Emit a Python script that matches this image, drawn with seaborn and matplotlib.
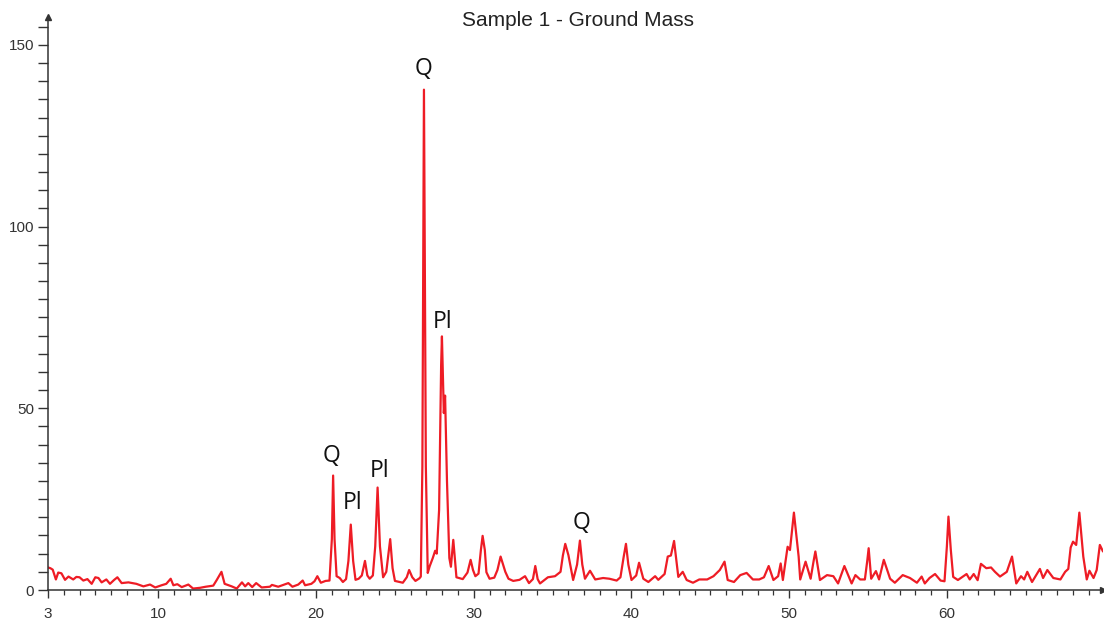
import matplotlib
matplotlib.use("Agg")
import matplotlib.pyplot as plt
from matplotlib.ticker import MultipleLocator, FixedLocator
import seaborn as sns
import pandas as pd

two_theta = [3.0, 3.15, 3.3, 3.5, 3.65, 3.85, 4.08, 4.3, 4.6, 4.8, 5.0, 5.24, 5.5, 5.77, 6.0, 6.2, 6.4, 6.7,
             6.93, 7.2, 7.4, 7.67, 8.1, 8.6, 9.05, 9.47, 9.8, 10.2, 10.5, 10.78, 10.95, 11.2, 11.48, 11.9,
             12.2, 12.64, 13.0, 13.48, 13.7, 14.0, 14.2, 14.65, 14.97, 15.3, 15.5, 15.7, 15.95, 16.2, 16.55,
             17.07, 17.2, 17.6, 18.24, 18.5, 18.87, 19.15, 19.3, 19.7, 19.9, 20.08, 20.3, 20.6, 20.85, 21.0,
             21.08, 21.17, 21.3, 21.5, 21.7, 21.9, 22.05, 22.2, 22.35, 22.5, 22.7, 22.9, 23.1, 23.25, 23.4,
             23.6, 23.75, 23.9, 24.05, 24.25, 24.45, 24.7, 24.85, 25.0, 25.5, 25.75, 25.9, 26.1, 26.3, 26.55,
             26.64, 26.74, 26.84, 26.96, 27.08, 27.2, 27.4, 27.55, 27.65, 27.8, 27.93, 27.98, 28.05, 28.1,
             28.18, 28.3, 28.45, 28.55, 28.7, 28.9, 29.3, 29.6, 29.8, 29.95, 30.1, 30.3, 30.45, 30.56, 30.7,
             30.8, 31.0, 31.3, 31.5, 31.7, 32.0, 32.2, 32.5, 32.9, 33.25, 33.5, 33.75, 33.9, 34.05, 34.2,
             34.7, 35.15, 35.5, 35.65, 35.8, 36.0, 36.3, 36.55, 36.73, 36.88, 37.05, 37.37, 37.7, 38.2, 38.6,
             39.06, 39.3, 39.5, 39.65, 39.8, 40.0, 40.3, 40.48, 40.75, 41.07, 41.5, 41.7, 42.1, 42.3, 42.5,
             42.7, 42.97, 43.25, 43.5, 43.9, 44.3, 44.8, 45.2, 45.6, 45.9, 46.1, 46.5, 46.9, 47.3, 47.7,
             48.1, 48.4, 48.7, 49.0, 49.3, 49.46, 49.6, 49.9, 50.05, 50.3, 50.6, 50.7, 51.04, 51.36, 51.55,
             51.66, 51.95, 52.4, 52.8, 53.1, 53.5, 53.96, 54.2, 54.5, 54.8, 54.95, 55.04, 55.2, 55.5, 55.7,
             56.0, 56.4, 56.7, 57.2, 57.66, 58.1, 58.4, 58.6, 58.9, 59.25, 59.6, 59.85, 60.0, 60.1, 60.25,
             60.4, 60.7, 61.25, 61.45, 61.7, 61.95, 62.16, 62.5, 62.8, 63.05, 63.37, 63.8, 64.13, 64.4, 64.7,
             64.9, 65.1, 65.4, 65.9, 66.1, 66.37, 66.75, 67.2, 67.5, 67.7, 67.85, 68.0, 68.2, 68.4, 68.65,
             68.87, 69.04, 69.3, 69.5, 69.7, 69.9]

intensity = [6.2, 6.0, 5.6, 2.9, 4.8, 4.6, 2.8, 3.7, 2.9, 3.6, 3.5, 2.6, 3.0, 1.7, 3.5, 3.3, 2.1, 2.9,
             1.7, 2.8, 3.5, 1.9, 2.1, 1.7, 1.0, 1.5, 0.7, 1.3, 1.7, 3.1, 1.3, 1.6, 0.8, 1.5,
             0.4, 0.6, 0.9, 1.2, 2.75, 5.0, 1.7, 1.0, 0.4, 2.1, 1.0, 1.9, 0.8, 1.9, 0.7,
             0.9, 1.4, 0.9, 1.9, 0.9, 1.5, 2.6, 1.3, 1.7, 2.4, 3.8, 2.0, 2.5, 2.6, 14.0,
             31.5, 14.0, 3.8, 3.3, 2.2, 3.0, 8.0, 18.0, 8.0, 2.8, 3.1, 4.0, 8.0, 4.0, 3.1,
             4.0, 12.0, 28.2, 12.0, 3.5, 5.0, 14.0, 6.0, 2.5, 2.0, 3.5, 5.5, 3.5, 2.5, 3.2,
             3.7, 34.0, 137.7, 34.0, 4.7, 6.5, 8.8, 10.8, 10.0, 22.0, 62.0, 69.8, 58.0, 48.7,
             53.5, 30.0, 8.8, 6.4, 13.8, 3.5, 3.0, 4.8, 8.3, 5.5, 3.8, 4.5, 11.0, 14.9, 11.0,
             4.9, 3.1, 3.4, 5.5, 9.2, 5.0, 3.1, 2.5, 2.8, 3.8, 1.9, 3.0, 6.6, 3.0, 1.8,
             3.5, 3.8, 5.0, 9.5, 12.7, 9.6, 2.75, 7.0, 13.6, 7.0, 3.1, 5.3, 2.9, 3.3, 3.1,
             2.6, 3.5, 9.0, 12.7, 7.0, 2.75, 4.0, 7.5, 3.1, 2.2, 3.8, 2.8, 4.4, 9.2, 9.5,
             13.5, 3.6, 5.0, 2.75, 2.0, 2.9, 2.9, 3.8, 5.5, 7.8, 2.75, 2.2, 4.1, 4.7, 2.9,
             2.9, 3.5, 6.6, 2.75, 3.8, 7.3, 2.75, 11.9, 11.0, 21.3, 9.2, 2.9, 7.8, 3.1, 8.0,
             10.6, 2.75, 4.1, 3.8, 1.8, 6.6, 1.8, 4.1, 2.9, 2.9, 8.0, 11.5, 3.1, 5.2, 2.9,
             8.3, 3.1, 2.0, 4.1, 3.3, 2.0, 3.7, 1.8, 3.3, 4.4, 2.6, 2.4, 12.0, 20.2, 11.0,
             3.6, 2.75, 4.4, 2.9, 4.4, 2.7, 7.2, 6.0, 6.2, 5.0, 3.7, 5.0, 9.2, 1.8, 3.8,
             2.9, 5.0, 2.2, 5.8, 3.3, 5.5, 3.3, 2.9, 5.0, 5.8, 11.7, 13.3, 12.4, 21.3, 9.2,
             2.9, 5.3, 3.3, 5.5, 12.4, 10.6]

peak_labels = ["Q", "Pl", "Q", "Pl", "Pl", "Q"]
peak_label_x = [26.84, 28.05, 21.0, 22.3, 24.05, 36.8]
peak_label_y = [143.3, 73.8, 36.9, 24.0, 32.8, 18.5]

x_major_ticks = [3, 10, 20, 30, 40, 50, 60]
y_major_ticks = [0, 50, 100, 150]
title_text = "Sample 1 - Ground Mass"

sns.set_theme(style="white")
plt.rcParams["font.family"] = ["Liberation Sans", "DejaVu Sans"]

df = pd.DataFrame({"two_theta": two_theta, "intensity": intensity})

fig = plt.figure(figsize=(11.04, 6.23), dpi=100)
ax = fig.add_axes([48 / 1104, 33 / 623, (1103 - 48) / 1104, (590 - 17) / 623])

sns.lineplot(data=df, x="two_theta", y="intensity", ax=ax, color="#ee1c25",
             linewidth=1.6, estimator=None, sort=False)

ax.set_xlim(3, 69.9)
ax.set_ylim(0, 157.7)
ax.set_xlabel("")
ax.set_ylabel("")

axis_col = "#333333"
for s in ["top", "right"]:
    ax.spines[s].set_visible(False)
for s in ["left", "bottom"]:
    ax.spines[s].set_color(axis_col)
    ax.spines[s].set_linewidth(1.1)

ax.xaxis.set_major_locator(FixedLocator(x_major_ticks))
ax.xaxis.set_minor_locator(MultipleLocator(1))
ax.yaxis.set_major_locator(FixedLocator(y_major_ticks))
ax.yaxis.set_minor_locator(MultipleLocator(5))

ax.tick_params(axis="x", which="major", direction="out", length=6, width=1.0,
               color=axis_col, labelsize=11, labelcolor="#333333", pad=6, bottom=True)
ax.tick_params(axis="x", which="minor", direction="out", length=3.5, width=0.9,
               color=axis_col, bottom=True)
ax.tick_params(axis="y", which="both", direction="out", length=7, width=1.0,
               color=axis_col, labelsize=11, labelcolor="#333333", pad=3, left=True)

# arrow heads
ax.plot(1, 0, marker=">", color=axis_col, markersize=5, transform=ax.transAxes, clip_on=False)
ax.plot(0, 1, marker="^", color=axis_col, markersize=5, transform=ax.transAxes, clip_on=False)

for t, x, y in zip(peak_labels, peak_label_x, peak_label_y):
    ax.text(x, y, t, ha="center", va="center", fontsize=16.5, color="#111111",
            family=["Open Sans", "DejaVu Sans"])

fig.text(578.5 / 1104, 1 - 21 / 623, title_text, ha="center", va="center",
         fontsize=15, color="#222222")

fig.savefig("out.png", dpi=100)
